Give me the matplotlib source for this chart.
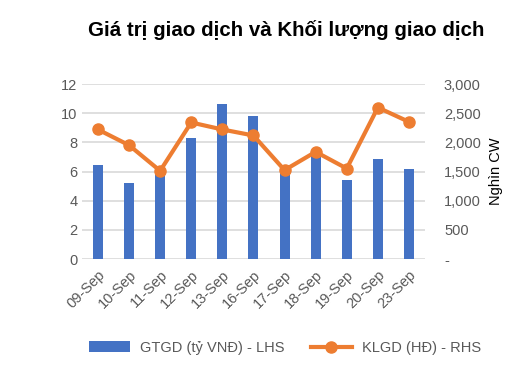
import matplotlib
matplotlib.use("Agg")
import matplotlib.pyplot as plt
from matplotlib.ticker import FuncFormatter

plt.rcParams['font.family'] = ['Liberation Sans', 'DejaVu Sans']

dates = ["09-Sep", "10-Sep", "11-Sep", "12-Sep", "13-Sep", "16-Sep",
         "17-Sep", "18-Sep", "19-Sep", "20-Sep", "23-Sep"]
gtgd = [6.45, 5.23, 5.95, 8.28, 10.63, 9.85, 6.45, 7.5, 5.42, 6.86, 6.19]
klgd = [2223, 1954, 1514, 2343, 2223, 2120, 1526, 1840, 1554, 2600, 2354]
left_ticks = [0, 2, 4, 6, 8, 10, 12]
right_ticks = [0, 500, 1000, 1500, 2000, 2500, 3000]

bar_color = "#4472C4"
line_color = "#ED7D31"
tick_color = "#595959"

fig = plt.figure(figsize=(5.28, 3.66), dpi=100)
ax = fig.add_axes([0.156, 0.292, 0.648, 0.478])
x = list(range(len(dates)))
ax.bar(x, gtgd, width=0.32, color=bar_color, label="GTGD (tỷ VNĐ) - LHS", zorder=2)
ax.set_ylim(0, 12)
ax.set_yticks(left_ticks)
ax.set_xlim(-0.5, len(dates) - 0.5)
ax.set_xticks(x)
ax.set_xticklabels(dates, rotation=45, ha="right", rotation_mode="anchor")
ax.yaxis.grid(True, color="#d9d9d9", linewidth=1.2, zorder=0)
ax.set_axisbelow(True)
for s in ax.spines.values():
    s.set_visible(False)
ax.tick_params(axis="both", length=0, colors=tick_color, labelsize=10.5)
ax.tick_params(axis="x", pad=6)

ax2 = ax.twinx()
ax2.plot(x, klgd, color=line_color, linewidth=3, marker="o", markersize=8,
         label="KLGD (HĐ) - RHS", zorder=3)
ax2.set_ylim(0, 3000)
ax2.set_yticks(right_ticks)
ax2.yaxis.set_major_formatter(FuncFormatter(lambda v, p: "-" if v == 0 else f"{int(v):,}"))
for s in ax2.spines.values():
    s.set_visible(False)
ax2.tick_params(axis="y", length=0, colors=tick_color, labelsize=10.5, pad=14)
ax2.set_ylabel("Nghìn CW", fontsize=10.5, color="black", labelpad=6)

fig.text(0.542, 0.918, "Giá trị giao dịch và Khối lượng giao dịch", ha="center",
         va="center", fontsize=14.8, fontweight="bold")

h1, l1 = ax.get_legend_handles_labels()
h2, l2 = ax2.get_legend_handles_labels()
fig.legend(h1 + h2, l1 + l2, loc="center", bbox_to_anchor=(0.54, 0.05), ncol=2,
           frameon=False, fontsize=10.5, labelcolor=tick_color, handlelength=2.8,
           columnspacing=1.8, handletextpad=0.7)

fig.savefig("out.png", dpi=100)
